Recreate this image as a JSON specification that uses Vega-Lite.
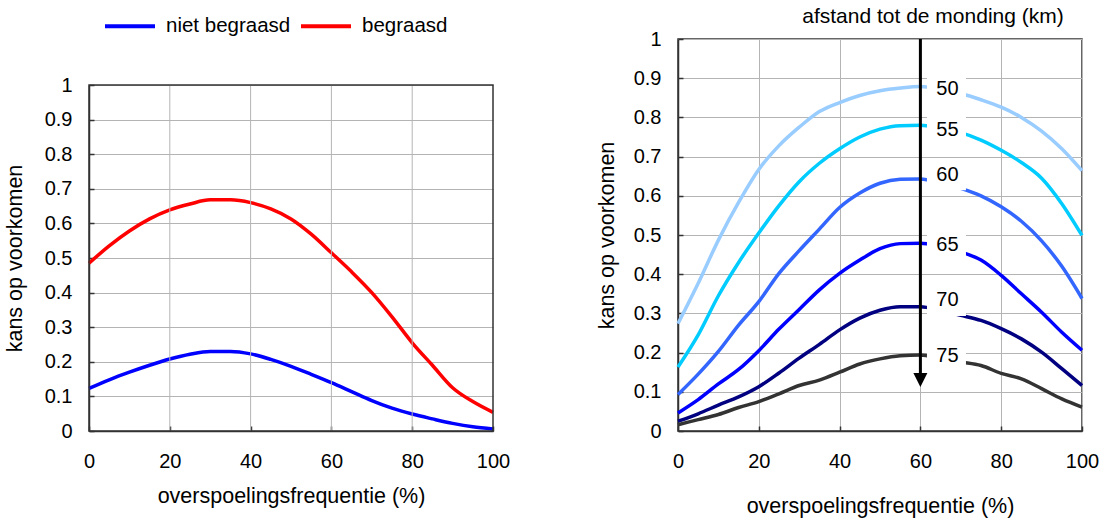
{
  "$schema": "https://vega.github.io/schema/vega-lite/v6.json",
  "autosize": {"type": "pad"},
  "padding": {"left": 4, "top": -1, "right": 0, "bottom": 0},
  "background": "white",
  "spacing": 185,
  "bounds": "flush",
  "resolve": {"scale": {"color": "independent"}},
  "config": {
    "font": "Liberation Sans",
    "view": {"stroke": null},
    "axis": {
      "labelFont": "Liberation Sans", "labelFontSize": 20, "labelColor": "#000000",
      "titleFont": "Liberation Sans", "titleFontSize": 21.5, "titleFontWeight": "normal", "titleColor": "#000000",
      "domainColor": "#333333", "domainWidth": 1.5, "tickColor": "#333333", "tickSize": -5, "tickWidth": 1.5,
      "gridColor": "#b4b4b4", "gridWidth": 1, "labelPadding": 25, "titlePadding": 14, "labelOverlap": false, "labelFlush": false
    },
    "legend": {
      "labelFont": "Liberation Sans", "labelFontSize": 20.5, "labelColor": "#000000"
    }
  },
  "datasets": {
    "left": [
      {"x": 0, "y": 0.123, "s": "niet begraasd"}, {"x": 5, "y": 0.148, "s": "niet begraasd"}, {"x": 10, "y": 0.17, "s": "niet begraasd"},
      {"x": 15, "y": 0.19, "s": "niet begraasd"}, {"x": 20, "y": 0.208, "s": "niet begraasd"}, {"x": 25, "y": 0.222, "s": "niet begraasd"},
      {"x": 30, "y": 0.23, "s": "niet begraasd"}, {"x": 35, "y": 0.23, "s": "niet begraasd"}, {"x": 40, "y": 0.223, "s": "niet begraasd"},
      {"x": 45, "y": 0.207, "s": "niet begraasd"}, {"x": 50, "y": 0.187, "s": "niet begraasd"}, {"x": 55, "y": 0.164, "s": "niet begraasd"},
      {"x": 60, "y": 0.14, "s": "niet begraasd"}, {"x": 65, "y": 0.114, "s": "niet begraasd"}, {"x": 70, "y": 0.088, "s": "niet begraasd"},
      {"x": 75, "y": 0.066, "s": "niet begraasd"}, {"x": 80, "y": 0.049, "s": "niet begraasd"}, {"x": 85, "y": 0.035, "s": "niet begraasd"},
      {"x": 90, "y": 0.022, "s": "niet begraasd"}, {"x": 95, "y": 0.012, "s": "niet begraasd"}, {"x": 100, "y": 0.006, "s": "niet begraasd"},
      {"x": 0, "y": 0.485, "s": "begraasd"}, {"x": 5, "y": 0.535, "s": "begraasd"}, {"x": 10, "y": 0.578, "s": "begraasd"},
      {"x": 15, "y": 0.613, "s": "begraasd"}, {"x": 20, "y": 0.639, "s": "begraasd"}, {"x": 25, "y": 0.656, "s": "begraasd"},
      {"x": 30, "y": 0.668, "s": "begraasd"}, {"x": 35, "y": 0.668, "s": "begraasd"}, {"x": 40, "y": 0.66, "s": "begraasd"},
      {"x": 45, "y": 0.642, "s": "begraasd"}, {"x": 50, "y": 0.613, "s": "begraasd"}, {"x": 55, "y": 0.569, "s": "begraasd"},
      {"x": 60, "y": 0.515, "s": "begraasd"}, {"x": 65, "y": 0.46, "s": "begraasd"}, {"x": 70, "y": 0.4, "s": "begraasd"},
      {"x": 75, "y": 0.33, "s": "begraasd"}, {"x": 80, "y": 0.255, "s": "begraasd"}, {"x": 85, "y": 0.19, "s": "begraasd"},
      {"x": 90, "y": 0.125, "s": "begraasd"}, {"x": 95, "y": 0.085, "s": "begraasd"}, {"x": 100, "y": 0.054, "s": "begraasd"}
    ],
    "right": [
      {"x": 0, "y": 0.274, "km": "50"}, {"x": 5, "y": 0.377, "km": "50"}, {"x": 10, "y": 0.487, "km": "50"}, {"x": 15, "y": 0.583, "km": "50"},
      {"x": 20, "y": 0.667, "km": "50"}, {"x": 25, "y": 0.728, "km": "50"}, {"x": 30, "y": 0.775, "km": "50"}, {"x": 35, "y": 0.815, "km": "50"},
      {"x": 40, "y": 0.838, "km": "50"}, {"x": 45, "y": 0.856, "km": "50"}, {"x": 50, "y": 0.868, "km": "50"}, {"x": 55, "y": 0.875, "km": "50"},
      {"x": 60, "y": 0.879, "km": "50"}, {"x": 65, "y": 0.872, "km": "50"}, {"x": 70, "y": 0.861, "km": "50"}, {"x": 75, "y": 0.845, "km": "50"},
      {"x": 80, "y": 0.826, "km": "50"}, {"x": 85, "y": 0.8, "km": "50"}, {"x": 90, "y": 0.765, "km": "50"}, {"x": 95, "y": 0.72, "km": "50"},
      {"x": 100, "y": 0.664, "km": "50"},
      {"x": 0, "y": 0.163, "km": "55"}, {"x": 5, "y": 0.245, "km": "55"}, {"x": 10, "y": 0.345, "km": "55"}, {"x": 15, "y": 0.43, "km": "55"},
      {"x": 20, "y": 0.505, "km": "55"}, {"x": 25, "y": 0.575, "km": "55"}, {"x": 30, "y": 0.636, "km": "55"}, {"x": 35, "y": 0.683, "km": "55"},
      {"x": 40, "y": 0.72, "km": "55"}, {"x": 45, "y": 0.75, "km": "55"}, {"x": 50, "y": 0.77, "km": "55"}, {"x": 55, "y": 0.779, "km": "55"},
      {"x": 60, "y": 0.78, "km": "55"}, {"x": 65, "y": 0.772, "km": "55"}, {"x": 70, "y": 0.761, "km": "55"}, {"x": 75, "y": 0.742, "km": "55"},
      {"x": 80, "y": 0.716, "km": "55"}, {"x": 85, "y": 0.685, "km": "55"}, {"x": 90, "y": 0.645, "km": "55"}, {"x": 95, "y": 0.58, "km": "55"},
      {"x": 100, "y": 0.499, "km": "55"},
      {"x": 0, "y": 0.093, "km": "60"}, {"x": 5, "y": 0.145, "km": "60"}, {"x": 10, "y": 0.203, "km": "60"}, {"x": 15, "y": 0.27, "km": "60"},
      {"x": 20, "y": 0.33, "km": "60"}, {"x": 25, "y": 0.402, "km": "60"}, {"x": 30, "y": 0.46, "km": "60"}, {"x": 35, "y": 0.515, "km": "60"},
      {"x": 40, "y": 0.57, "km": "60"}, {"x": 45, "y": 0.607, "km": "60"}, {"x": 50, "y": 0.632, "km": "60"}, {"x": 55, "y": 0.642, "km": "60"},
      {"x": 60, "y": 0.643, "km": "60"}, {"x": 65, "y": 0.633, "km": "60"}, {"x": 70, "y": 0.619, "km": "60"}, {"x": 75, "y": 0.6, "km": "60"},
      {"x": 80, "y": 0.572, "km": "60"}, {"x": 85, "y": 0.535, "km": "60"}, {"x": 90, "y": 0.485, "km": "60"}, {"x": 95, "y": 0.42, "km": "60"},
      {"x": 100, "y": 0.338, "km": "60"},
      {"x": 0, "y": 0.046, "km": "65"}, {"x": 5, "y": 0.08, "km": "65"}, {"x": 10, "y": 0.12, "km": "65"}, {"x": 15, "y": 0.157, "km": "65"},
      {"x": 20, "y": 0.205, "km": "65"}, {"x": 25, "y": 0.26, "km": "65"}, {"x": 30, "y": 0.31, "km": "65"}, {"x": 35, "y": 0.36, "km": "65"},
      {"x": 40, "y": 0.402, "km": "65"}, {"x": 45, "y": 0.436, "km": "65"}, {"x": 50, "y": 0.465, "km": "65"}, {"x": 55, "y": 0.478, "km": "65"},
      {"x": 60, "y": 0.479, "km": "65"}, {"x": 65, "y": 0.47, "km": "65"}, {"x": 70, "y": 0.457, "km": "65"}, {"x": 75, "y": 0.436, "km": "65"},
      {"x": 80, "y": 0.397, "km": "65"}, {"x": 85, "y": 0.35, "km": "65"}, {"x": 90, "y": 0.303, "km": "65"}, {"x": 95, "y": 0.252, "km": "65"},
      {"x": 100, "y": 0.206, "km": "65"},
      {"x": 0, "y": 0.025, "km": "70"}, {"x": 5, "y": 0.044, "km": "70"}, {"x": 10, "y": 0.066, "km": "70"}, {"x": 15, "y": 0.087, "km": "70"},
      {"x": 20, "y": 0.113, "km": "70"}, {"x": 25, "y": 0.148, "km": "70"}, {"x": 30, "y": 0.186, "km": "70"}, {"x": 35, "y": 0.221, "km": "70"},
      {"x": 40, "y": 0.258, "km": "70"}, {"x": 45, "y": 0.288, "km": "70"}, {"x": 50, "y": 0.308, "km": "70"}, {"x": 55, "y": 0.317, "km": "70"},
      {"x": 60, "y": 0.317, "km": "70"}, {"x": 65, "y": 0.307, "km": "70"}, {"x": 70, "y": 0.295, "km": "70"}, {"x": 75, "y": 0.282, "km": "70"},
      {"x": 80, "y": 0.261, "km": "70"}, {"x": 85, "y": 0.235, "km": "70"}, {"x": 90, "y": 0.201, "km": "70"}, {"x": 95, "y": 0.159, "km": "70"},
      {"x": 100, "y": 0.116, "km": "70"},
      {"x": 0, "y": 0.016, "km": "75"}, {"x": 5, "y": 0.029, "km": "75"}, {"x": 10, "y": 0.042, "km": "75"}, {"x": 15, "y": 0.06, "km": "75"},
      {"x": 20, "y": 0.075, "km": "75"}, {"x": 25, "y": 0.095, "km": "75"}, {"x": 30, "y": 0.116, "km": "75"}, {"x": 35, "y": 0.13, "km": "75"},
      {"x": 40, "y": 0.15, "km": "75"}, {"x": 45, "y": 0.171, "km": "75"}, {"x": 50, "y": 0.184, "km": "75"}, {"x": 55, "y": 0.192, "km": "75"},
      {"x": 60, "y": 0.194, "km": "75"}, {"x": 65, "y": 0.185, "km": "75"}, {"x": 70, "y": 0.176, "km": "75"}, {"x": 75, "y": 0.167, "km": "75"},
      {"x": 80, "y": 0.147, "km": "75"}, {"x": 85, "y": 0.133, "km": "75"}, {"x": 90, "y": 0.108, "km": "75"}, {"x": 95, "y": 0.082, "km": "75"},
      {"x": 100, "y": 0.061, "km": "75"}
    ],
    "labels": [
      {"km": "50", "ly": 0.872}, {"km": "55", "ly": 0.767}, {"km": "60", "ly": 0.654},
      {"km": "65", "ly": 0.475}, {"km": "70", "ly": 0.333}, {"km": "75", "ly": 0.191}
    ],
    "xgrid": [{"g": 20}, {"g": 40}, {"g": 60}, {"g": 80}]
  },
  "hconcat": [
    {
      "width": 404,
      "height": 392,
      "layer": [
        {
          "data": {"name": "left"},
          "mark": {"type": "line", "strokeWidth": 3.5, "interpolate": "monotone"},
          "encoding": {
            "x": {
              "field": "x", "type": "quantitative",
              "scale": {"domain": [0, 100], "nice": false},
              "axis": {"values": [0, 20, 40, 60, 80, 100], "grid": false, "title": "overspoelingsfrequentie (%)"}
            },
            "y": {
              "field": "y", "type": "quantitative",
              "scale": {"domain": [0, 1], "range": [392, 46], "nice": false},
              "axis": {"values": [0, 0.1, 0.2, 0.3, 0.4, 0.5, 0.6, 0.7, 0.8, 0.9, 1], "grid": true, "format": "~g", "title": "kans op voorkomen", "labelPadding": 22, "titlePadding": 18}
            },
            "color": {
              "field": "s", "type": "nominal",
              "scale": {"domain": ["niet begraasd", "begraasd"], "range": ["#0000FF", "#FF0000"]},
              "legend": {
                "title": null, "orient": "none", "direction": "horizontal",
                "legendX": 14, "legendY": -40, "padding": 0,
                "symbolType": "stroke", "symbolSize": 2500, "symbolStrokeWidth": 4,
                "labelOffset": 9, "columnPadding": 2
              }
            }
          }
        },
        {
          "data": {"name": "xgrid"},
          "mark": {"type": "rule", "color": "#b4b4b4", "strokeWidth": 1},
          "encoding": {
            "x": {"field": "g", "type": "quantitative",
              "axis": {"values": [0, 20, 40, 60, 80, 100], "grid": false, "title": "overspoelingsfrequentie (%)"}},
            "y": {"datum": 0, "type": "quantitative",
              "axis": {"values": [0, 0.1, 0.2, 0.3, 0.4, 0.5, 0.6, 0.7, 0.8, 0.9, 1], "grid": true, "format": "~g", "title": "kans op voorkomen", "labelPadding": 22, "titlePadding": 18}},
            "y2": {"datum": 1}
          }
        },
        {
          "data": {"values": [{}]},
          "mark": {"type": "rect", "filled": false, "stroke": "#333333", "strokeWidth": 1.5},
          "encoding": {
            "x": {"datum": 0, "type": "quantitative",
              "axis": {"values": [0, 20, 40, 60, 80, 100], "grid": false, "title": "overspoelingsfrequentie (%)"}},
            "x2": {"datum": 100},
            "y": {"datum": 0, "type": "quantitative",
              "axis": {"values": [0, 0.1, 0.2, 0.3, 0.4, 0.5, 0.6, 0.7, 0.8, 0.9, 1], "grid": true, "format": "~g", "title": "kans op voorkomen", "labelPadding": 22, "titlePadding": 18}},
            "y2": {"datum": 1}
          }
        }
      ]
    },
    {
      "width": 404,
      "height": 392,
      "view": {"stroke": "#333333", "strokeWidth": 1.5},
      "title": {
        "text": "afstand tot de monding (km)", "anchor": "middle", "dx": 53, "offset": 2,
        "font": "Liberation Sans", "fontSize": 21, "fontWeight": "normal", "color": "#000000"
      },
      "layer": [
        {
          "data": {"name": "right"},
          "mark": {"type": "line", "strokeWidth": 3.5, "interpolate": "monotone"},
          "encoding": {
            "x": {
              "field": "x", "type": "quantitative",
              "scale": {"domain": [0, 100], "nice": false},
              "axis": {"values": [0, 20, 40, 60, 80, 100], "grid": true, "title": "overspoelingsfrequentie (%)", "titlePadding": 24}
            },
            "y": {
              "field": "y", "type": "quantitative",
              "scale": {"domain": [0, 1], "nice": false},
              "axis": {"values": [0, 0.1, 0.2, 0.3, 0.4, 0.5, 0.6, 0.7, 0.8, 0.9, 1], "grid": true, "format": "~g", "title": "kans op voorkomen", "labelPadding": 22, "titlePadding": 15}
            },
            "color": {
              "field": "km", "type": "nominal",
              "scale": {"domain": ["50", "55", "60", "65", "70", "75"], "range": ["#99CCFF", "#00CCFF", "#3366FF", "#0000FF", "#000080", "#333333"]},
              "legend": null
            }
          }
        },
        {
          "data": {"name": "labels"},
          "mark": {"type": "point", "shape": "M-1,-0.8L1,-0.8L1,0.8L-1,0.8Z", "filled": true, "fill": "#FFFFFF", "stroke": null, "opacity": 1, "size": 1521},
          "encoding": {
            "x": {"datum": 66.45, "type": "quantitative",
              "axis": {"values": [0, 20, 40, 60, 80, 100], "grid": true, "title": "overspoelingsfrequentie (%)", "titlePadding": 24}},
            "y": {"field": "ly", "type": "quantitative",
              "axis": {"values": [0, 0.1, 0.2, 0.3, 0.4, 0.5, 0.6, 0.7, 0.8, 0.9, 1], "grid": true, "format": "~g", "title": "kans op voorkomen", "labelPadding": 22, "titlePadding": 15}}
          }
        },
        {
          "data": {"name": "labels"},
          "mark": {"type": "text", "font": "Liberation Sans", "fontSize": 20, "color": "#000000", "align": "center", "baseline": "middle"},
          "encoding": {
            "x": {"datum": 66.7, "type": "quantitative",
              "axis": {"values": [0, 20, 40, 60, 80, 100], "grid": true, "title": "overspoelingsfrequentie (%)", "titlePadding": 24}},
            "y": {"field": "ly", "type": "quantitative",
              "axis": {"values": [0, 0.1, 0.2, 0.3, 0.4, 0.5, 0.6, 0.7, 0.8, 0.9, 1], "grid": true, "format": "~g", "title": "kans op voorkomen", "labelPadding": 22, "titlePadding": 15}},
            "text": {"field": "km"}
          }
        },
        {
          "data": {"values": [{}]},
          "mark": {"type": "rule", "color": "#000000", "strokeWidth": 3},
          "encoding": {
            "x": {"datum": 60, "type": "quantitative",
              "axis": {"values": [0, 20, 40, 60, 80, 100], "grid": true, "title": "overspoelingsfrequentie (%)", "titlePadding": 24}},
            "y": {"datum": 1, "type": "quantitative",
              "axis": {"values": [0, 0.1, 0.2, 0.3, 0.4, 0.5, 0.6, 0.7, 0.8, 0.9, 1], "grid": true, "format": "~g", "title": "kans op voorkomen", "labelPadding": 22, "titlePadding": 15}},
            "y2": {"datum": 0.14}
          }
        },
        {
          "data": {"values": [{}]},
          "mark": {"type": "point", "shape": "M-1,-1L1,-1L0,1Z", "filled": true, "fill": "#000000", "stroke": null, "opacity": 1, "size": 196},
          "encoding": {
            "x": {"datum": 60, "type": "quantitative",
              "axis": {"values": [0, 20, 40, 60, 80, 100], "grid": true, "title": "overspoelingsfrequentie (%)", "titlePadding": 24}},
            "y": {"datum": 0.13, "type": "quantitative",
              "axis": {"values": [0, 0.1, 0.2, 0.3, 0.4, 0.5, 0.6, 0.7, 0.8, 0.9, 1], "grid": true, "format": "~g", "title": "kans op voorkomen", "labelPadding": 22, "titlePadding": 15}}
          }
        }
      ]
    }
  ]
}
